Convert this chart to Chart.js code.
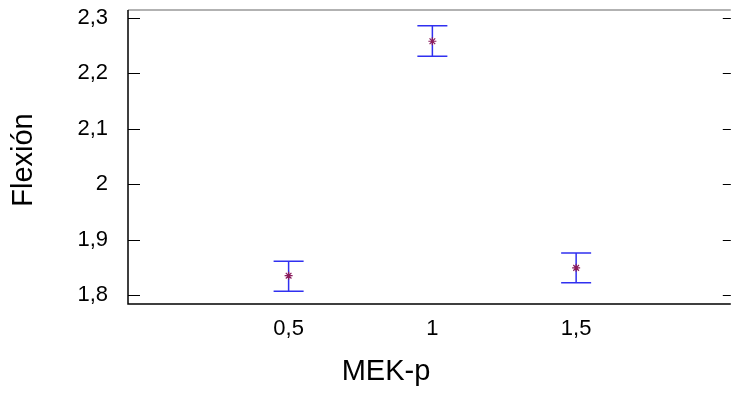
<!DOCTYPE html>
<html>
<head>
<meta charset="utf-8">
<script src="https://cdn.jsdelivr.net/npm/chart.js@4/dist/chart.umd.min.js"></script>
<style>
  html, body { margin: 0; padding: 0; background: #fff; }
  #wrap { width: 736px; height: 396px; }
</style>
</head>
<body>
<div id="wrap"><canvas id="chartFlexion"></canvas></div>
<script>
// MEK-p levels and Flexión means with interval limits
const mekLevels = [0.5, 1, 1.5];
const flexMeans = [1.835, 2.258, 1.849];
const flexLower = [1.807, 2.231, 1.822];
const flexUpper = [1.861, 2.286, 1.876];

const xTicks = [0.5, 1, 1.5];
const yTicks = [1.8, 1.9, 2.0, 2.1, 2.2, 2.3];

const fontName = "'Liberation Sans', Arial, sans-serif";
const comma = v => String(v).replace('.', ',');

// error bars + frame + axis titles
const extras = {
  id: 'extras',
  beforeDatasetsDraw(chart) {
    const ctx = chart.ctx;
    const xs = chart.scales.x, ys = chart.scales.y;
    const a = chart.chartArea;
    ctx.save();
    // frame
    ctx.lineWidth = 1.5;
    ctx.strokeStyle = '#999';
    ctx.beginPath();
    ctx.moveTo(a.left, a.top); ctx.lineTo(a.right, a.top);
    ctx.stroke();
    ctx.strokeStyle = '#000';
    ctx.beginPath();
    ctx.moveTo(a.left, a.top); ctx.lineTo(a.left, a.bottom); ctx.lineTo(a.right, a.bottom);
    ctx.stroke();
    // inward ticks, left and right
    ctx.lineWidth = 1.2;
    yTicks.forEach(v => {
      const y = Math.round(ys.getPixelForValue(v)) + 0.5;
      ctx.beginPath();
      ctx.moveTo(a.left, y); ctx.lineTo(a.left + 12, y);
      ctx.moveTo(a.right - 8, y); ctx.lineTo(a.right, y);
      ctx.stroke();
    });
    // error bars
    ctx.strokeStyle = '#3030f0';
    ctx.lineWidth = 1.5;
    mekLevels.forEach((m, i) => {
      const x = xs.getPixelForValue(m);
      const yl = ys.getPixelForValue(flexLower[i]);
      const yu = ys.getPixelForValue(flexUpper[i]);
      ctx.beginPath();
      ctx.moveTo(x, yl); ctx.lineTo(x, yu);
      ctx.moveTo(x - 15, yl); ctx.lineTo(x + 15, yl);
      ctx.moveTo(x - 15, yu); ctx.lineTo(x + 15, yu);
      ctx.stroke();
    });
    // axis titles
    ctx.fillStyle = '#000';
    ctx.font = '29px ' + fontName;
    ctx.textAlign = 'center';
    ctx.textBaseline = 'middle';
    ctx.fillText('MEK-p', 386, 372);
    ctx.translate(24, 160);
    ctx.rotate(-Math.PI / 2);
    ctx.fillText('Flexión', 0, 0);
    ctx.restore();
  }
};

new Chart(document.getElementById('chartFlexion'), {
  type: 'scatter',
  data: {
    datasets: [{
      data: mekLevels.map((m, i) => ({ x: m, y: flexMeans[i] })),
      pointStyle: 'star',
      radius: 4,
      borderWidth: 1.2,
      borderColor: '#8a1c5c',
      backgroundColor: '#8a1c5c'
    }]
  },
  options: {
    responsive: true,
    maintainAspectRatio: false,
    animation: false,
    layout: { padding: { top: 10, right: 0, left: 0, bottom: 0 } },
    plugins: { legend: { display: false }, tooltip: { enabled: false } },
    scales: {
      x: {
        type: 'linear',
        min: -0.0586,
        max: 2.0379,
        grid: { display: false },
        border: { display: false },
        afterBuildTicks: s => { s.ticks = xTicks.map(v => ({ value: v })); },
        afterFit: s => { s.height = 92; s.paddingLeft = 0; s.paddingRight = 0; },
        ticks: {
          padding: 4,
          color: '#000',
          font: { family: fontName, size: 22 },
          callback: v => comma(v)
        }
      },
      y: {
        type: 'linear',
        min: 1.7838,
        max: 2.3144,
        grid: { display: false },
        border: { display: false },
        afterBuildTicks: s => { s.ticks = yTicks.map(v => ({ value: v })); },
        afterFit: s => { s.width = 128; s.paddingTop = 0; s.paddingBottom = 0; },
        ticks: {
          padding: 12,
          color: '#000',
          font: { family: fontName, size: 22 },
          callback: v => comma(Math.round(v * 10) / 10)
        }
      }
    }
  },
  plugins: [extras]
});
</script>
</body>
</html>
